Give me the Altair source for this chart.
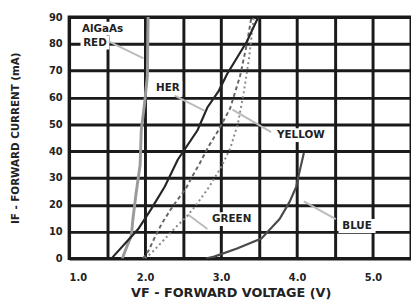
import altair as alt
import pandas as pd

# ---- data ----
red_v = [1.70, 1.75, 1.82, 1.84, 1.88, 1.935, 1.95, 1.99, 2.03, 2.04]
red_i = [0, 3.7, 8.5, 14.7, 23.9, 35, 47.8, 57, 68, 90]
her_v = [1.56, 1.58, 1.91, 2.08, 2.26, 2.43, 2.69, 2.82, 2.97, 3.08, 3.34, 3.49]
her_i = [0, 0.7, 11, 18.4, 26.8, 36.8, 47.8, 56.3, 62.5, 68.8, 80.9, 90]
yellow_v = [1.97, 2.04, 2.13, 2.22, 2.34, 2.43, 2.53, 2.62, 2.72, 2.84, 2.97, 3.12, 3.25, 3.34, 3.40]
yellow_i = [0, 2.6, 8, 13, 18.4, 22, 25.7, 30.5, 35.5, 42, 48, 56, 68, 80, 90]
green_v = [2.0, 2.1, 2.25, 2.4, 2.56, 2.7, 2.85, 3.0, 3.12, 3.22, 3.3, 3.37, 3.43]
green_i = [0, 2.5, 7, 11.5, 16, 21, 27, 34, 41, 50, 62, 75, 90]
blue_v = [2.8, 2.91, 3.21, 3.53, 3.77, 3.90, 3.99, 4.03, 4.09]
blue_i = [0, 0.7, 3.7, 7.4, 14.7, 21, 26.8, 32, 39.3]

label_text = ["AlGaAs", "RED", "HER", "YELLOW", "GREEN", "BLUE"]
label_v = [1.44, 1.34, 2.30, 4.05, 3.14, 4.79]
label_i = [85.7, 80.5, 63.6, 46.0, 14.7, 12.1]

leader_v1 = [1.52, 2.39, 3.15, 2.56, 4.09]
leader_i1 = [80.9, 60.7, 55.5, 16.5, 21.3]
leader_v2 = [1.98, 2.78, 3.66, 2.82, 4.51]
leader_i2 = [74.6, 55.1, 47.1, 11.0, 14.7]

x_ticks = [1.0, 1.5, 2.0, 2.5, 3.0, 3.5, 4.0, 4.5, 5.0, 5.5]
y_ticks = [0, 10, 20, 30, 40, 50, 60, 70, 80, 90]

W, H = 347, 245
XMIN, XMAX, YMIN, YMAX = 1.0, 5.5, 0, 90
FONT = "DejaVu Sans"
INK = "#222222"

xscale = alt.Scale(domain=[XMIN, XMAX], nice=False, zero=False)
yscale = alt.Scale(domain=[YMIN, YMAX], nice=False, zero=True)
xaxis = alt.Axis(values=x_ticks, grid=True, ticks=False, domain=False,
                 labelExpr="datum.value % 1 == 0 ? format(datum.value, '.1f') : ''",
                 labelPadding=14, labelFontSize=10, labelFont=FONT, labelFontWeight="bold",
                 labelColor=INK, title="VF - FORWARD VOLTAGE (V)", titleFont=FONT,
                 titleFontSize=13, titleFontWeight="bold", titleColor=INK, titlePadding=5,
                 titleX=164,
                 gridColor="#1a1a1a", gridWidth=3, gridOpacity=1)
yaxis = alt.Axis(values=y_ticks, grid=True, ticks=False, domain=False,
                 labelPadding=7, labelFontSize=10, labelFont=FONT, labelFontWeight="bold",
                 labelColor=INK, title="IF - FORWARD CURRENT (mA)", titleFont=FONT,
                 titleFontSize=10.5, titleFontWeight="bold", titleColor=INK, titlePadding=28,
                 gridColor="#1a1a1a", gridWidth=3, gridOpacity=1)


def X(f):
    return alt.X(f"{f}:Q", scale=xscale, axis=xaxis)


def Y(f):
    return alt.Y(f"{f}:Q", scale=yscale, axis=yaxis)


def curve(vs, is_, color, width, dash=None):
    df = pd.DataFrame({"v": vs, "i": is_, "k": list(range(len(vs)))})
    kw = dict(color=color, strokeWidth=width, clip=True)
    if dash:
        kw["strokeDash"] = dash
    return alt.Chart(df).mark_line(**kw).encode(x=X("v"), y=Y("i"), order="k:Q")


# leader lines
lead_df = pd.DataFrame({"v": leader_v1, "v2": leader_v2, "i": leader_i1, "i2": leader_i2})
leaders = alt.Chart(lead_df).mark_rule(color="#bbbbbb", strokeWidth=2).encode(
    x=X("v"), x2="v2", y=Y("i"), y2="i2")

# label backgrounds (white boxes that break the grid)
px_v = (XMAX - XMIN) / W
px_i = (YMAX - YMIN) / H
bg_rows = []
for t, v, i in zip(label_text, label_v, label_i):
    half_w = (len(t) * 8.4 + 4) / 2 * px_v
    half_h = 7 * px_i
    bg_rows.append({"v": v - half_w, "v2": v + half_w, "i": i - half_h, "i2": i + half_h})
bg = alt.Chart(pd.DataFrame(bg_rows)).mark_rect(color="white").encode(
    x=X("v"), x2="v2", y=Y("i"), y2="i2")

lab_df = pd.DataFrame({"t": label_text, "v": label_v, "i": label_i})
labels = alt.Chart(lab_df).mark_text(font=FONT, fontSize=10.5, fontWeight="bold",
                                     color=INK, align="center", baseline="middle").encode(
    x=X("v"), y=Y("i"), text="t:N")

chart = alt.layer(
    bg,
    leaders,
    curve(red_v, red_i, "#9a9a9a", 3),
    curve(yellow_v, yellow_i, "#666666", 2, [4, 3]),
    curve(green_v, green_i, "#888888", 2, [2, 3]),
    curve(her_v, her_i, "#262626", 2.2),
    curve(blue_v, blue_i, "#4a4a4a", 2.2),
    labels,
).properties(
    width=W, height=H,
    autosize=alt.AutoSizeParams(type="none"),
    padding={"left": 62, "top": 7, "right": 0, "bottom": 44},
    background="white",
).configure_view(stroke="#1a1a1a", strokeWidth=3)

chart.save("out.html", embed_options={"renderer": "svg", "actions": False})
